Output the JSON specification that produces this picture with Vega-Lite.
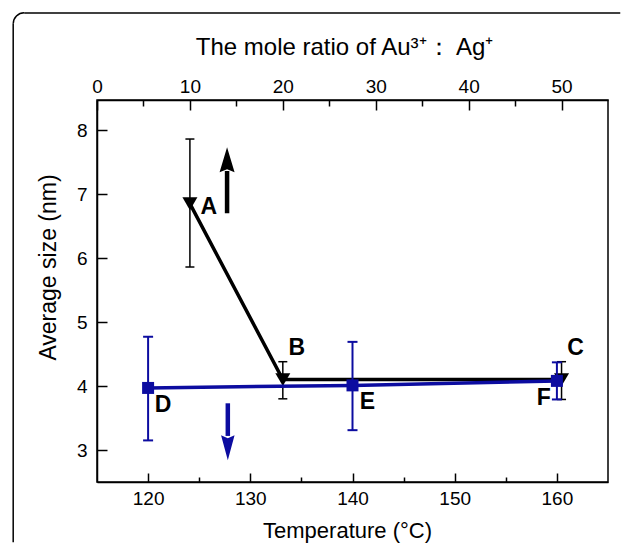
{
  "$schema": "https://vega.github.io/schema/vega-lite/v6.json",
  "width": 511,
  "height": 382,
  "autosize": "none",
  "padding": {"left": 97, "top": 100, "right": 13, "bottom": 61},
  "config": {
    "font": "Liberation Sans",
    "view": {"stroke": "black", "strokeWidth": 1.5},
    "axis": {
      "domainColor": "black", "domainWidth": 1.5,
      "tickColor": "black", "tickWidth": 1.5,
      "labelColor": "black", "titleColor": "black",
      "labelFont": "Liberation Sans", "titleFont": "Liberation Sans",
      "labelFontSize": 19, "titleFontSize": 22, "titleFontWeight": "normal",
      "grid": false, "labelOverlap": false, "labelFlush": false
    }
  },
  "datasets": {
    "ratio": [
      {"ratio": 10, "size": 6.85, "lo": 5.86, "hi": 7.86, "label": "A"},
      {"ratio": 20, "size": 4.1, "lo": 3.8, "hi": 4.38, "label": "B"},
      {"ratio": 50, "size": 4.1, "lo": 3.79, "hi": 4.38, "label": "C"}
    ],
    "temp": [
      {"temp": 120, "size": 3.97, "lo": 3.15, "hi": 4.77, "label": "D"},
      {"temp": 140, "size": 4.01, "lo": 3.31, "hi": 4.69, "label": "E"},
      {"temp": 160, "size": 4.08, "lo": 3.79, "hi": 4.37, "label": "F"}
    ],
    "frame": [
      {"left": 106.8, "inner": 107.88, "right": 166.2, "top": 9.83, "innerTop": 9.66, "bottom": 1.56}
    ]
  },
  "layer": [
    {
      "data": {"name": "ratio"},
      "encoding": {
        "x": {
          "field": "ratio", "type": "quantitative",
          "scale": {"domain": [0, 55], "nice": false, "zero": false},
          "axis": {
            "orient": "top",
            "title": "The mole ratio of Au³⁺： Ag⁺",
            "values": [0, 5, 10, 15, 20, 25, 30, 35, 40, 45, 50],
            "labelExpr": "datum.value % 10 === 0 ? datum.label : ''",
            "tickSize": {"condition": {"test": "datum.value % 10 !== 0", "value": -6}, "value": -10},
            "labelPadding": 14,
            "titlePadding": 14,
            "titleFontSize": 24,
            "titleX": 247
          }
        },
        "y": {
          "field": "size", "type": "quantitative",
          "scale": {"domain": [2.5, 8.47], "nice": false, "zero": false},
          "axis": {
            "title": "Average size (nm)",
            "values": [3, 3.5, 4, 4.5, 5, 5.5, 6, 6.5, 7, 7.5, 8],
            "labelExpr": "datum.value % 1 === 0 ? format(datum.value, 'd') : ''",
            "tickSize": {"condition": {"test": "datum.value % 1 !== 0", "value": -5}, "value": -10},
            "labelPadding": 20,
            "titlePadding": 16,
            "titleFontSize": 23,
            "titleY": 167
          }
        }
      },
      "layer": [
        {
          "mark": {"type": "rule", "color": "black", "strokeWidth": 1.5},
          "encoding": {"y": {"field": "lo", "type": "quantitative"}, "y2": {"field": "hi"}}
        },
        {
          "mark": {"type": "point", "shape": "M-1,0L1,0", "filled": false, "stroke": "black", "strokeWidth": 1.5, "size": 81, "opacity": 1},
          "encoding": {"y": {"field": "lo", "type": "quantitative"}}
        },
        {
          "mark": {"type": "point", "shape": "M-1,0L1,0", "filled": false, "stroke": "black", "strokeWidth": 1.5, "size": 81, "opacity": 1},
          "encoding": {"y": {"field": "hi", "type": "quantitative"}}
        },
        {
          "mark": {"type": "line", "color": "black", "strokeWidth": 3.5},
          "encoding": {}
        },
        {
          "mark": {"type": "point", "shape": "triangle-down", "filled": true, "color": "black", "size": 225, "opacity": 1},
          "encoding": {}
        },
        {
          "transform": [{"filter": "datum.label === 'A'"}],
          "mark": {"type": "text", "fontWeight": "bold", "fontSize": 23, "dx": 19, "dy": 3, "color": "black"},
          "encoding": {"text": {"field": "label"}}
        },
        {
          "transform": [{"filter": "datum.label !== 'A'"}],
          "mark": {"type": "text", "fontWeight": "bold", "fontSize": 23, "dx": 14, "dy": -32, "color": "black"},
          "encoding": {"text": {"field": "label"}}
        },
        {
          "data": {"values": [{"ratio": 14, "from": 6.7, "to": 7.36, "tip": 7.73}]},
          "mark": {"type": "rule", "color": "black", "strokeWidth": 4.5},
          "encoding": {"y": {"field": "from", "type": "quantitative"}, "y2": {"field": "to"}}
        },
        {
          "data": {"values": [{"ratio": 14, "from": 6.7, "to": 7.36, "tip": 7.73}]},
          "mark": {"type": "point", "shape": "M0,0L0.3,1L0,0.88L-0.3,1Z", "filled": true, "color": "black", "size": 2500, "opacity": 1},
          "encoding": {"y": {"field": "tip", "type": "quantitative"}}
        }
      ]
    },
    {
      "data": {"name": "temp"},
      "encoding": {
        "x": {
          "field": "temp", "type": "quantitative",
          "scale": {"domain": [115, 165], "nice": false, "zero": false},
          "axis": {
            "orient": "bottom",
            "title": "Temperature (°C)",
            "values": [120, 125, 130, 135, 140, 145, 150, 155, 160],
            "labelExpr": "datum.value % 10 === 0 ? datum.label : ''",
            "tickSize": {"condition": {"test": "datum.value % 10 !== 0", "value": -5}, "value": -9},
            "labelPadding": 16,
            "titlePadding": 8,
            "titleX": 250
          }
        },
        "y": {"field": "size", "type": "quantitative"}
      },
      "layer": [
        {
          "mark": {"type": "rule", "color": "#0c0ca0", "strokeWidth": 2},
          "encoding": {"y": {"field": "lo", "type": "quantitative"}, "y2": {"field": "hi"}}
        },
        {
          "mark": {"type": "point", "shape": "M-1,0L1,0", "filled": false, "stroke": "#0c0ca0", "strokeWidth": 2, "size": 100, "opacity": 1},
          "encoding": {"y": {"field": "lo", "type": "quantitative"}}
        },
        {
          "mark": {"type": "point", "shape": "M-1,0L1,0", "filled": false, "stroke": "#0c0ca0", "strokeWidth": 2, "size": 100, "opacity": 1},
          "encoding": {"y": {"field": "hi", "type": "quantitative"}}
        },
        {
          "mark": {"type": "line", "color": "#0c0ca0", "strokeWidth": 3.5},
          "encoding": {}
        },
        {
          "mark": {"type": "point", "shape": "square", "filled": true, "color": "#0c0ca0", "size": 144, "opacity": 1},
          "encoding": {}
        },
        {
          "transform": [{"filter": "datum.label !== 'F'"}],
          "mark": {"type": "text", "fontWeight": "bold", "fontSize": 23, "dx": 15, "dy": 17, "color": "black"},
          "encoding": {"text": {"field": "label"}}
        },
        {
          "transform": [{"filter": "datum.label === 'F'"}],
          "mark": {"type": "text", "fontWeight": "bold", "fontSize": 23, "dx": -13, "dy": 17, "color": "black"},
          "encoding": {"text": {"field": "label"}}
        },
        {
          "data": {"values": [{"temp": 127.8, "from": 3.73, "to": 3.22, "tip": 2.84}]},
          "mark": {"type": "rule", "color": "#0c0ca0", "strokeWidth": 4.5},
          "encoding": {"y": {"field": "from", "type": "quantitative"}, "y2": {"field": "to"}}
        },
        {
          "data": {"values": [{"temp": 127.8, "from": 3.73, "to": 3.22, "tip": 2.84}]},
          "mark": {"type": "point", "shape": "M0,0L0.27,-1L0,-0.88L-0.27,-1Z", "filled": true, "color": "#0c0ca0", "size": 2500, "opacity": 1},
          "encoding": {"y": {"field": "tip", "type": "quantitative"}}
        },
        {
          "data": {"name": "frame"},
          "mark": {"type": "rule", "color": "black", "strokeWidth": 1.5, "clip": false},
          "encoding": {
            "x": {"field": "left", "type": "quantitative"},
            "y": {"field": "innerTop", "type": "quantitative"},
            "y2": {"field": "bottom"}
          }
        },
        {
          "data": {"name": "frame"},
          "mark": {"type": "rule", "color": "black", "strokeWidth": 1.5, "clip": false},
          "encoding": {
            "x": {"field": "inner", "type": "quantitative"},
            "x2": {"field": "right"},
            "y": {"field": "top", "type": "quantitative"}
          }
        },
        {
          "data": {"name": "frame"},
          "mark": {"type": "arc", "color": "black", "radius": 11.75, "radius2": 10.25, "theta": -1.5708, "theta2": 0, "clip": false},
          "encoding": {
            "x": {"field": "inner", "type": "quantitative"},
            "y": {"field": "innerTop", "type": "quantitative"}
          }
        }
      ]
    }
  ],
  "resolve": {"scale": {"x": "independent"}}
}
